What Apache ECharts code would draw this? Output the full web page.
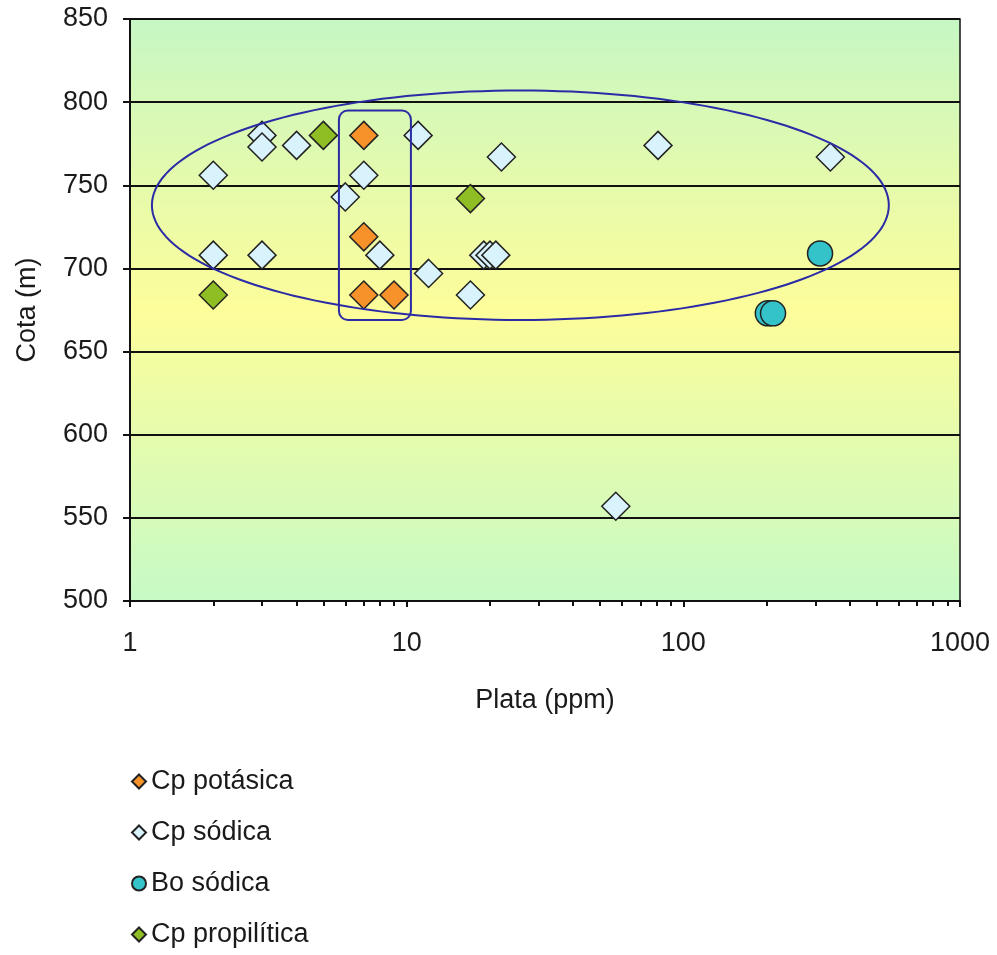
<!DOCTYPE html>
<html>
<head>
<meta charset="utf-8">
<script src="https://cdn.jsdelivr.net/npm/echarts@6/dist/echarts.min.js"></script>
<style>
  html, body { margin: 0; padding: 0; background: #fff; }
  #main { width: 997px; height: 955px; }
</style>
</head>
<body>
<div id="main"></div>
<script>
// datos: [plata ppm, cota m]
var cpPotasica = [[7, 780], [7, 719], [7, 684], [9, 684]];
var cpSodica = [
  [3, 780], [3, 773], [4, 774], [2, 756], [7, 756], [6, 743],
  [2, 708], [3, 708], [8, 708], [11, 780], [22, 767], [81, 774],
  [19, 708], [20, 708], [21, 708], [12, 697], [17, 684], [340, 767], [57, 557]
];
var boSodica = [[312, 709], [202, 673], [211, 673]];
var cpPropilitica = [[5, 780], [2, 684], [17, 742]];

var serieNames = ['Cp potásica', 'Cp sódica', 'Bo sódica', 'Cp propilítica'];

// ejes
var xMin = 1, xMax = 1000;
var yMin = 500, yMax = 850, yStep = 50;

// anotaciones (en unidades de datos): [xIzq, xDer, yAbajo, yArriba]
var elipse = [1.2, 553, 669, 807];
var recuadro = [5.69, 10.36, 669, 795];

var fontFam = 'Arial, "Liberation Sans", sans-serif';

function drawElipse(params, api) {
  var p1 = api.coord([api.value(0), api.value(3)]);
  var p2 = api.coord([api.value(1), api.value(2)]);
  var cx = (p1[0] + p2[0]) / 2, cy = (p1[1] + p2[1]) / 2;
  var rx = Math.abs(p2[0] - p1[0]) / 2, ry = Math.abs(p2[1] - p1[1]) / 2;
  var pts = [];
  for (var i = 0; i <= 180; i++) {
    var a = i / 180 * Math.PI * 2;
    pts.push([cx + rx * Math.cos(a), cy + ry * Math.sin(a)]);
  }
  return {
    type: 'polyline',
    shape: { points: pts },
    style: { fill: 'none', stroke: '#2b2ba6', lineWidth: 2 }
  };
}

function drawRecuadro(params, api) {
  var p1 = api.coord([api.value(0), api.value(3)]);
  var p2 = api.coord([api.value(1), api.value(2)]);
  return {
    type: 'rect',
    shape: { x: p1[0], y: p1[1], width: p2[0] - p1[0], height: p2[1] - p1[1], r: 9 },
    style: { fill: 'none', stroke: '#2b2ba6', lineWidth: 2 }
  };
}

var chart = echarts.init(document.getElementById('main'));
var option = {
  animation: false,
  textStyle: { fontFamily: fontFam },
  grid: {
    left: 130, right: 37, top: 19, bottom: 354,
    show: true,
    borderColor: '#111', borderWidth: 1.5,
    backgroundColor: new echarts.graphic.LinearGradient(0, 0, 0, 1, [
      { offset: 0, color: '#c6f7c4' },
      { offset: 0.5, color: '#fdfd9a' },
      { offset: 1, color: '#c6fac6' }
    ])
  },
  legend: {
    data: serieNames,
    orient: 'vertical',
    left: 131, top: 768,
    padding: 0,
    itemWidth: 14, itemHeight: 14,
    itemGap: 24,
    textStyle: { fontSize: 27, color: '#1a1a1a', fontFamily: fontFam }
  },
  xAxis: {
    type: 'log', logBase: 10, min: xMin, max: xMax,
    name: 'Plata (ppm)', nameLocation: 'middle', nameGap: 86,
    nameTextStyle: { fontSize: 27, color: '#1a1a1a' },
    axisLine: { lineStyle: { color: '#111', width: 2 } },
    axisTick: { show: true, length: 6, lineStyle: { color: '#111', width: 2 } },
    minorTick: { show: true, splitNumber: 9, length: 5, lineStyle: { color: '#111', width: 2 } },
    axisLabel: { fontSize: 27, color: '#1a1a1a', margin: 29, formatter: function (v) { return String(v); } },
    splitLine: { show: false }
  },
  yAxis: {
    type: 'value', min: yMin, max: yMax, interval: yStep,
    name: 'Cota (m)', nameLocation: 'middle', nameGap: 89,
    nameTextStyle: { fontSize: 27, color: '#1a1a1a' },
    axisLine: { show: true, lineStyle: { color: '#111', width: 2 } },
    axisTick: { show: true, length: 7, lineStyle: { color: '#111', width: 2 } },
    axisLabel: { fontSize: 27, color: '#1a1a1a', margin: 22 },
    splitLine: { show: true, lineStyle: { color: '#111', width: 2 } }
  },
  series: [
    {
      name: 'Cp potásica', type: 'scatter', symbol: 'diamond', symbolSize: 28,
      itemStyle: { color: '#f7922a', borderColor: '#222', borderWidth: 1.5, opacity: 1 },
      data: cpPotasica, z: 5
    },
    {
      name: 'Cp sódica', type: 'scatter', symbol: 'diamond', symbolSize: 28,
      itemStyle: { color: '#d9f3fc', borderColor: '#222', borderWidth: 1.5, opacity: 1 },
      data: cpSodica, z: 4
    },
    {
      name: 'Bo sódica', type: 'scatter', symbol: 'circle', symbolSize: 25,
      itemStyle: { color: '#33c3c8', borderColor: '#222', borderWidth: 1.5, opacity: 1 },
      data: boSodica, z: 5
    },
    {
      name: 'Cp propilítica', type: 'scatter', symbol: 'diamond', symbolSize: 28,
      itemStyle: { color: '#8ebd24', borderColor: '#222', borderWidth: 1.5, opacity: 1 },
      data: cpPropilitica, z: 5
    },
    {
      type: 'custom', renderItem: drawElipse, silent: true, z: 6,
      encode: { x: [0, 1], y: [2, 3] },
      data: [elipse]
    },
    {
      type: 'custom', renderItem: drawRecuadro, silent: true, z: 6,
      encode: { x: [0, 1], y: [2, 3] },
      data: [recuadro]
    }
  ]
};
chart.setOption(option);
</script>
</body>
</html>
